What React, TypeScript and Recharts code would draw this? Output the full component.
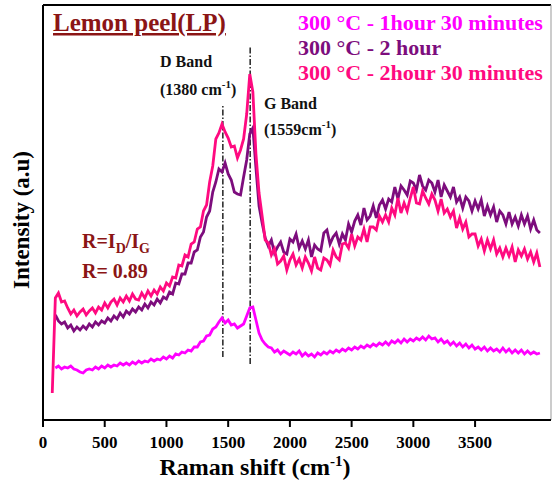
import React from 'react';
import { LineChart, Line, XAxis, YAxis, ReferenceLine, Customized } from 'recharts';

// Raman shift grid (cm^-1)
const wavenumbers = [
  75,100,125,150,175,200,225,250,275,300,
  325,350,375,400,425,450,475,500,525,550,
  575,600,625,650,675,700,725,750,775,800,
  825,850,875,900,925,950,975,1000,1025,1050,
  1075,1100,1125,1150,1175,1200,1225,1250,1275,1300,
  1325,1350,1375,1400,1425,1450,1475,1500,1525,1550,
  1575,1600,1625,1650,1675,1700,1725,1750,1775,1800,
  1825,1850,1875,1900,1925,1950,1975,2000,2025,2050,
  2075,2100,2125,2150,2175,2200,2225,2250,2275,2300,
  2325,2350,2375,2400,2425,2450,2475,2500,2525,2550,
  2575,2600,2625,2650,2675,2700,2725,2750,2775,2800,
  2825,2850,2875,2900,2925,2950,2975,3000,3025,3050,
  3075,3100,3125,3150,3175,3200,3225,3250,3275,3300,
  3325,3350,3375,3400,3425,3450,3475,3500,3525,3550,
  3575,3600,3625,3650,3675,3700,3725,3750,3775,3800,
  3825,3850,3875,3900,3925,3950,3975,4000,4025,
];

// 300 °C - 1hour 30 minutes
const lp90 = [
  null,52,54,51,53,52,54,51,50,48,
  47,50,51,50,53,51,54,52,55,53,
  55,54,57,55,57,55,58,56,59,57,
  59,58,61,59,61,60,63,61,64,62,
  66,65,68,67,70,69,73,73,78,79,
  84,85,91,93,98,102,97,100,95,96,
  92,94,96,104,112,113,100,87,80,76,
  73,72,68,70,66,69,67,65,68,66,
  69,64,67,64,66,63,67,65,68,66,
  69,67,70,68,71,69,72,70,73,71,
  74,72,75,73,76,74,77,75,78,75,
  79,77,80,77,81,78,81,79,82,80,
  83,80,84,81,82,78,81,77,79,75,
  78,74,77,73,76,72,75,71,73,70,
  73,69,72,69,71,68,72,68,71,67,
  70,67,70,66,69,66,68,66,67,
];

// 300 °C - 2 hour
const lp120 = [
  null,105,99,96,98,92,95,89,93,90,
  94,91,96,93,98,95,99,97,102,99,
  104,101,107,103,109,106,111,108,113,110,
  116,112,118,115,121,117,123,121,128,126,
  137,136,146,146,157,157,168,170,183,188,
  203,209,228,238,251,248,257,246,240,228,
  226,225,243,260,286,292,252,214,197,182,
  174,180,167,173,178,168,166,181,178,186,
  172,179,171,180,163,175,171,169,187,190,
  176,183,187,176,186,180,196,188,199,205,
  195,212,200,204,214,202,215,220,211,221,
  218,233,221,234,230,225,239,237,230,245,
  234,230,240,237,228,240,223,235,229,223,
  233,218,223,212,223,219,209,219,211,220,
  204,214,205,213,198,209,205,196,208,196,
  203,194,205,196,204,191,200,190,187,
];

// 300 °C - 2hour 30 minutes
const lp150 = [
  27,122,127,118,119,112,106,110,104,108,
  111,105,109,112,107,113,110,117,112,118,
  121,115,122,118,124,119,126,121,120,127,
  122,129,124,130,126,133,129,137,134,143,
  142,155,154,165,163,176,178,191,193,209,
  215,238,254,281,287,296,288,282,273,274,
  262,270,281,306,346,328,266,227,204,180,
  177,165,171,156,159,164,150,160,166,155,
  161,152,163,157,149,163,152,150,162,160,
  155,170,163,160,176,177,172,186,174,183,
  180,191,178,193,193,190,204,198,205,198,
  212,205,222,207,217,209,222,233,217,216,
  229,222,216,226,220,209,221,207,211,203,
  209,192,202,191,198,183,186,186,174,181,
  169,180,171,180,166,172,163,172,164,173,
  158,170,164,171,161,168,158,167,153,
];

const xTicks = [0, 500, 1000, 1500, 2000, 2500, 3000, 3500];
const seriesNames = ['300 °C - 1hour 30 minutes', '300 °C - 2 hour', '300 °C - 2hour 30 minutes'];
const seriesColors = ['#FF00FF', '#7D0D7D', '#FF0A80'];
const dBand = 1457;
const gBand = 1678;

const rows = wavenumbers.map((w, i) => ({ w, a: lp90[i], b: lp120[i], c: lp150[i] }));

const SERIF = '"Liberation Serif", "Times New Roman", serif';
const DARKRED = '#8B1515';

const Annotations = () => (
  <g fontFamily={SERIF} fontWeight="bold">
    <text x={53} y={31} fontSize={25} fill={DARKRED} textDecoration="underline">Lemon peel(LP)</text>
    {seriesNames.map((n, i) => (
      <text key={n} x={298} y={30 + i * 25} fontSize={22} fill={seriesColors[i]}>{n}</text>
    ))}
    <text x={160} y={67} fontSize={16} fill="#111">D Band</text>
    <text x={160} y={95} fontSize={16} fill="#111">(1380 cm<tspan dy={-7} fontSize={11}>-1</tspan><tspan dy={7}>)</tspan></text>
    <text x={264} y={109} fontSize={16} fill="#111">G Band</text>
    <text x={264} y={135} fontSize={16} fill="#111">(1559cm<tspan dy={-7} fontSize={11}>-1</tspan><tspan dy={7}>)</tspan></text>
    <text x={82} y={248} fontSize={20} fill={DARKRED}>R=I<tspan dy={5} fontSize={14}>D</tspan><tspan dy={-5}>/I</tspan><tspan dy={5} fontSize={14}>G</tspan></text>
    <text x={82} y={278} fontSize={20} fill={DARKRED}>R= 0.89</text>
    <text x={255} y={475} fontSize={24} fill="#000" textAnchor="middle">Raman shift (cm<tspan dy={-9} fontSize={15}>-1</tspan><tspan dy={9}>)</tspan></text>
    <text x={0} y={0} fontSize={23} fill="#000" textAnchor="middle" transform="translate(29,220) rotate(-90)">Intensity (a.u)</text>
  </g>
);

export default function App() {
  return (
    <div style={{ position: 'absolute', left: 0, top: 0, width: 552, height: 484, background: '#fff' }}>
      <LineChart width={552} height={484} data={rows} margin={{ top: 5, right: 1, bottom: 34, left: 0 }}>
        <XAxis
          dataKey="w"
          type="number"
          domain={[0, 4115]}
          ticks={xTicks}
          height={30}
          allowDataOverflow
          axisLine={{ stroke: '#000', strokeWidth: 2 }}
          tickLine={{ stroke: '#000', strokeWidth: 2 }}
          tickSize={7}
          tickMargin={9}
          tick={{ fill: '#000', fontFamily: SERIF, fontWeight: 'bold', fontSize: 17 }}
        />
        <YAxis
          type="number"
          domain={[0, 415]}
          width={43}
          tick={false}
          tickLine={false}
          axisLine={{ stroke: '#000', strokeWidth: 2 }}
        />
        <ReferenceLine y={415} stroke="#000" strokeWidth={2} />
        <ReferenceLine x={4115} stroke="#999" strokeWidth={1} />
        <ReferenceLine segment={[{ x: dBand, y: 63 }, { x: dBand, y: 315 }]} stroke="#000" strokeWidth={1.3} strokeDasharray="6 2 1.5 2" />
        <ReferenceLine segment={[{ x: gBand, y: 56 }, { x: gBand, y: 373 }]} stroke="#000" strokeWidth={1.3} strokeDasharray="6 2 1.5 2" />
        <Line dataKey="a" stroke={seriesColors[0]} strokeWidth={2.8} dot={false} isAnimationActive={false} />
        <Line dataKey="b" stroke={seriesColors[1]} strokeWidth={2.8} dot={false} isAnimationActive={false} />
        <Line dataKey="c" stroke={seriesColors[2]} strokeWidth={2.8} dot={false} isAnimationActive={false} />
        <Customized component={Annotations} />
      </LineChart>
    </div>
  );
}
